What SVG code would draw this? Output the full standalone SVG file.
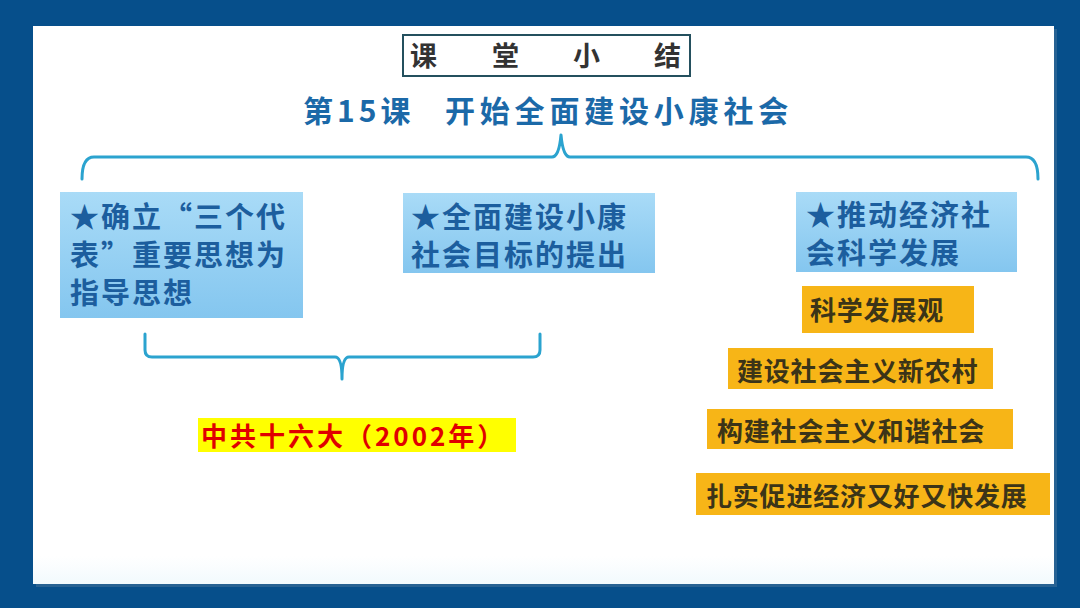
<svg xmlns="http://www.w3.org/2000/svg" width="1080" height="608" viewBox="0 0 1080 608">
<defs>
<linearGradient id="gb" x1="0" y1="0" x2="0" y2="1"><stop offset="0" stop-color="#a9dbf7"/><stop offset="1" stop-color="#84c6ef"/></linearGradient>
<linearGradient id="gp" x1="0" y1="0" x2="0" y2="1"><stop offset="0" stop-color="#ffffff"/><stop offset="0.95" stop-color="#ffffff"/><stop offset="1" stop-color="#f2fafd"/></linearGradient>
<style>
.cjk{font-family:"Noto Sans CJK SC","Noto Sans",sans-serif;font-weight:700}
.bt{fill:#1c5e9e;font-size:29px;letter-spacing:2px}
.ot{fill:#3b3418;font-size:26px;letter-spacing:0.8px}
.br{fill:none;stroke:#2ba3cf;stroke-width:3;stroke-linecap:round;stroke-linejoin:round}
.ob{fill:#f7b517}
</style>
</defs>
<rect x="0" y="0" width="1080" height="608" fill="#064f8b"/>
<rect x="36" y="29" width="1021" height="558" fill="#3d6f99" opacity="0.6"/>
<rect x="33" y="26" width="1021" height="558" fill="url(#gp)"/>

<g id="title">
<rect x="403" y="35" width="287" height="41" fill="#ffffff" stroke="#24505e" stroke-width="2"/>
<text class="cjk" x="410" y="66" font-size="27" fill="#333333"><tspan x="410">课</tspan><tspan x="492">堂</tspan><tspan x="573">小</tspan><tspan x="654">结</tspan></text>
</g>
<g id="subtitle">
<text class="cjk" x="303" y="122" font-size="30" fill="#1b69a8" letter-spacing="4">第15课</text>
<text class="cjk" x="445" y="122" font-size="30" fill="#1b69a8" letter-spacing="4.8">开始全面建设小康社会</text>
</g>

<g id="connectors">
<path class="br" d="M82,179 Q82,157 94,157 L552,157 Q559,157 561,135 Q563,157 570,157 L1026,157 Q1038,157 1038,179"/>
<path class="br" d="M145,334 L145,350 Q145,357 152,357 L335,357 Q342,357 342,379 Q342,357 349,357 L533,357 Q540,357 540,350 L540,334"/>
</g>

<g id="node-sange">
<rect x="60" y="192" width="243" height="126" fill="url(#gb)"/>
<text class="cjk bt" x="70" y="228">★确立“三个代</text>
<text class="cjk bt" x="70" y="266">表”重要思想为</text>
<text class="cjk bt" x="70" y="304">指导思想</text>
</g>
<g id="node-xiaokang">
<rect x="403" y="193" width="252" height="80" fill="url(#gb)"/>
<text class="cjk bt" x="411" y="228">★全面建设小康</text>
<text class="cjk bt" x="411" y="266">社会目标的提出</text>
</g>
<g id="node-16da">
<rect x="198" y="418" width="318" height="34" fill="#ffff00"/>
<text class="cjk" x="201" y="446" font-size="26" fill="#e00000" letter-spacing="3">中共十六大（2002年）</text>
</g>
<g id="node-kexue">
<rect x="796" y="192" width="221" height="80" fill="url(#gb)"/>
<text class="cjk bt" x="806" y="226">★推动经济社</text>
<text class="cjk bt" x="806" y="264">会科学发展</text>
</g>
<g id="node-o1">
<rect class="ob" x="802" y="286" width="172" height="47"/>
<text class="cjk ot" x="810" y="320">科学发展观</text>
</g>
<g id="node-o2">
<rect class="ob" x="728" y="348" width="265" height="41"/>
<text class="cjk ot" x="737" y="381">建设社会主义新农村</text>
</g>
<g id="node-o3">
<rect class="ob" x="707" y="409" width="306" height="40"/>
<text class="cjk ot" x="717" y="441">构建社会主义和谐社会</text>
</g>
<g id="node-o4">
<rect class="ob" x="696" y="473" width="354" height="42"/>
<text class="cjk ot" x="706" y="506">扎实促进经济又好又快发展</text>
</g>
</svg>
